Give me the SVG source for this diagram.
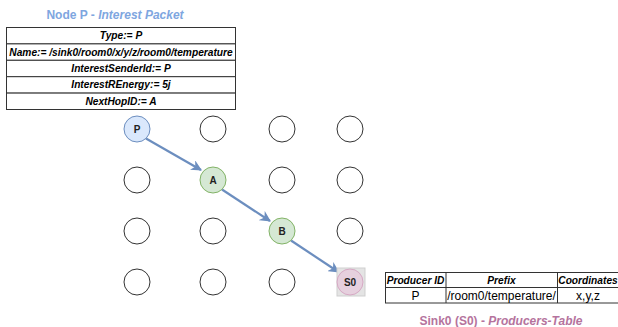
<svg xmlns="http://www.w3.org/2000/svg" width="618" height="327" viewBox="0 0 618 327">
<style>
.t{font-family:"Liberation Sans",Arial,sans-serif;fill:#000}
.bi{font-weight:bold;font-style:italic;font-size:10.2px}
.b{font-weight:bold}
.cell{fill:#fff;stroke:#333;stroke-width:1}
.empty{fill:#fff;stroke:#333;stroke-width:1}
.conn{stroke:#6c8ebf;stroke-width:2.2;fill:none}
.nl{font-family:"Liberation Sans",Arial,sans-serif;font-weight:bold;font-size:10px;fill:#222}
</style>
<defs>
<marker id="ah" viewBox="0 0 10 10" refX="9" refY="5" markerWidth="5" markerHeight="5" orient="auto" markerUnits="strokeWidth">
<path d="M0,0 L10,5 L0,10 L3,5 Z" fill="#6c8ebf"/>
</marker>
</defs>
<rect width="618" height="327" fill="#fff"/>

<g id="packet">
<text class="t b" x="115" y="19" text-anchor="middle" font-size="12" style="fill:#7ea6e0">Node P - <tspan font-style="italic">Interest Packet</tspan></text>
<rect class="cell" x="6.5" y="27.5" width="229" height="16.4"/>
<rect class="cell" x="6.5" y="43.9" width="229" height="16.4"/>
<rect class="cell" x="6.5" y="60.3" width="229" height="16.4"/>
<rect class="cell" x="6.5" y="76.7" width="229" height="16.4"/>
<rect class="cell" x="6.5" y="93.1" width="229" height="16.4"/>
<text class="t bi" x="121" y="39.2" text-anchor="middle">Type:= P</text>
<text class="t bi" x="121" y="55.6" text-anchor="middle">Name:= /sink0/room0/x/y/z/room0/temperature</text>
<text class="t bi" x="121" y="72" text-anchor="middle">InterestSenderId:= P</text>
<text class="t bi" x="121" y="88.4" text-anchor="middle">InterestREnergy:= 5j</text>
<text class="t bi" x="121" y="104.8" text-anchor="middle">NextHopID:= A</text>
</g>

<g id="grid">
<circle class="empty" cx="213" cy="129" r="13"/>
<circle class="empty" cx="282" cy="129" r="13"/>
<circle class="empty" cx="350" cy="129" r="13"/>
<circle class="empty" cx="137" cy="180" r="13"/>
<circle class="empty" cx="282" cy="180" r="13"/>
<circle class="empty" cx="350" cy="180" r="13"/>
<circle class="empty" cx="137" cy="231" r="13"/>
<circle class="empty" cx="213" cy="231" r="13"/>
<circle class="empty" cx="350" cy="231" r="13"/>
<circle class="empty" cx="137" cy="282" r="13"/>
<circle class="empty" cx="213" cy="282" r="13"/>
<circle class="empty" cx="282" cy="282" r="13"/>
</g>

<g id="connectors">
<line class="conn" x1="146" y1="138.5" x2="201" y2="170" marker-end="url(#ah)"/>
<line class="conn" x1="222" y1="189.5" x2="270" y2="221" marker-end="url(#ah)"/>
<line class="conn" x1="291" y1="240.5" x2="338.5" y2="272" marker-end="url(#ah)"/>
</g>

<g id="nodeP">
<circle cx="137" cy="129" r="13" fill="#dae8fc" stroke="#6c8ebf"/>
<text class="nl" x="137" y="132.5" text-anchor="middle">P</text>
</g>
<g id="nodeA">
<circle cx="213" cy="180" r="13" fill="#d5e8d4" stroke="#82b366"/>
<text class="nl" x="213" y="183.5" text-anchor="middle">A</text>
</g>
<g id="nodeB">
<circle cx="282" cy="231" r="13" fill="#d5e8d4" stroke="#82b366"/>
<text class="nl" x="282" y="234.5" text-anchor="middle">B</text>
</g>
<g id="nodeS0">
<rect x="337" y="268" width="28" height="28" fill="#e4e4e4" stroke="#cfcfcf"/>
<circle cx="350" cy="282" r="13" fill="#e6d0de" stroke="#d6a9c4"/>
<text class="nl" x="350" y="285.5" text-anchor="middle">S0</text>
</g>

<g id="producers">
<rect class="cell" x="385.5" y="272.5" width="240" height="15"/>
<rect class="cell" x="385.5" y="287.5" width="240" height="15.5"/>
<line x1="446" y1="272.5" x2="446" y2="303" stroke="#333"/>
<line x1="557.5" y1="272.5" x2="557.5" y2="303" stroke="#333"/>
<text class="t bi" x="415.5" y="283.5" text-anchor="middle">Producer ID</text>
<text class="t bi" x="501.5" y="283.5" text-anchor="middle">Prefix</text>
<text class="t bi" x="588" y="283.5" text-anchor="middle">Coordinates</text>
<text class="t" x="415.5" y="299.5" text-anchor="middle" font-size="12">P</text>
<text class="t" x="501.5" y="299.5" text-anchor="middle" font-size="12">/room0/temperature/</text>
<text class="t" x="588" y="299.5" text-anchor="middle" font-size="12">x,y,z</text>
<text class="t b" x="501" y="325" text-anchor="middle" font-size="12" style="fill:#b5739d">Sink0 (S0) - <tspan font-style="italic">Producers-Table</tspan></text>
</g>
</svg>
